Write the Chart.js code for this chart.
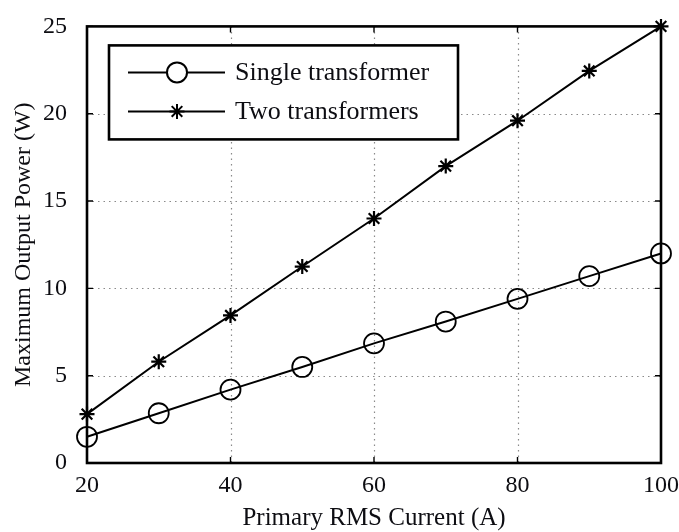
<!DOCTYPE html>
<html>
<head>
<meta charset="utf-8">
<script src="https://cdn.jsdelivr.net/npm/chart.js@4/dist/chart.umd.min.js"></script>
<style>
  html, body { margin: 0; padding: 0; background: #fff; }
  #wrap { width: 679px; height: 532px; }
</style>
</head>
<body>
<div id="wrap"><canvas id="chartPower" width="679" height="532"></canvas></div>
<script>
  // Primary RMS current (A)
  const currents = [20, 30, 40, 50, 60, 70, 80, 90, 100];
  // Maximum output power (W)
  const singleTransformer = [1.5, 2.85, 4.2, 5.5, 6.85, 8.1, 9.4, 10.7, 12.0];
  const twoTransformers = [2.8, 5.8, 8.45, 11.25, 14.0, 17.0, 19.6, 22.45, 25.0];
  const xTicks = [20, 40, 60, 80, 100];
  const yTicks = [0, 5, 10, 15, 20, 25];
  const seriesNames = ["Single transformer", "Two transformers"];

  const serif = "'Liberation Serif', 'Times New Roman', serif";
  const ink = "#0d0d12";

  // dotted grid, box and inward ticks, matlab-style
  const frame = {
    id: "frame",
    beforeDatasetsDraw(chart) {
      const { ctx, chartArea: a, scales } = chart;
      const x = scales.x, y = scales.y;
      ctx.save();
      ctx.strokeStyle = "#8a8a8a";
      ctx.lineWidth = 1.2;
      ctx.setLineDash([1.5, 4]);
      xTicks.slice(1, -1).forEach(v => {
        const px = Math.round(x.getPixelForValue(v)) + 0.5;
        ctx.beginPath(); ctx.moveTo(px, a.top); ctx.lineTo(px, a.bottom); ctx.stroke();
      });
      yTicks.slice(1, -1).forEach(v => {
        const py = Math.round(y.getPixelForValue(v)) + 0.5;
        ctx.beginPath(); ctx.moveTo(a.left, py); ctx.lineTo(a.right, py); ctx.stroke();
      });
      ctx.setLineDash([]);
      ctx.strokeStyle = "#000";
      ctx.lineWidth = 1.4;
      const t = 6;
      xTicks.forEach(v => {
        const px = x.getPixelForValue(v);
        ctx.beginPath();
        ctx.moveTo(px, a.bottom); ctx.lineTo(px, a.bottom - t);
        ctx.moveTo(px, a.top); ctx.lineTo(px, a.top + t);
        ctx.stroke();
      });
      yTicks.forEach(v => {
        const py = y.getPixelForValue(v);
        ctx.beginPath();
        ctx.moveTo(a.left, py); ctx.lineTo(a.left + t, py);
        ctx.moveTo(a.right, py); ctx.lineTo(a.right - t, py);
        ctx.stroke();
      });
      ctx.lineWidth = 2.6;
      ctx.strokeRect(a.left, a.top, a.right - a.left, a.bottom - a.top);
      ctx.restore();
    },
    afterDraw(chart) {
      // legend box in the upper-left corner of the plot
      const { ctx, chartArea: a } = chart;
      const bx = a.left + 22, by = a.top + 19, bw = 349, bh = 94;
      ctx.save();
      ctx.fillStyle = "#fff";
      ctx.fillRect(bx, by, bw, bh);
      ctx.strokeStyle = "#000";
      ctx.lineWidth = 2.6;
      ctx.strokeRect(bx, by, bw, bh);
      chart.data.datasets.forEach((ds, i) => {
        const ly = by + 27 + i * 39;
        ctx.strokeStyle = "#000";
        ctx.lineWidth = 2;
        ctx.beginPath(); ctx.moveTo(bx + 19, ly); ctx.lineTo(bx + 116, ly); ctx.stroke();
        Chart.helpers.drawPoint(ctx, {
          pointStyle: ds.pointStyle,
          radius: ds.pointRadius,
          borderWidth: ds.pointBorderWidth,
          rotation: 0
        }, bx + 68, ly);
        ctx.fillStyle = ink;
        ctx.font = "26px " + serif;
        ctx.textBaseline = "middle";
        ctx.textAlign = "left";
        ctx.fillText(ds.label, bx + 126, ly + 1);
      });
      ctx.restore();
    }
  };

  const canvas = document.getElementById("chartPower");
  new Chart(canvas, {
    type: "line",
    data: {
      labels: currents,
      datasets: [
        {
          label: seriesNames[0],
          data: currents.map((c, i) => ({ x: c, y: singleTransformer[i] })),
          borderColor: "#000",
          borderWidth: 2,
          pointStyle: "circle",
          pointRadius: 10,
          pointBorderWidth: 1.8,
          pointBorderColor: "#000",
          pointBackgroundColor: "rgba(0,0,0,0)",
          tension: 0
        },
        {
          label: seriesNames[1],
          data: currents.map((c, i) => ({ x: c, y: twoTransformers[i] })),
          borderColor: "#000",
          borderWidth: 2,
          pointStyle: "star",
          pointRadius: 7.5,
          pointBorderWidth: 2.2,
          pointBorderColor: "#000",
          pointBackgroundColor: "#000",
          tension: 0
        }
      ]
    },
    options: {
      responsive: false,
      animation: false,
      clip: false,
      layout: { padding: { left: 0, right: 18, top: 23, bottom: 0 } },
      plugins: { legend: { display: false }, tooltip: { enabled: false } },
      scales: {
        x: {
          type: "linear",
          min: 20,
          max: 100,
          afterBuildTicks: s => { s.ticks = xTicks.map(v => ({ value: v })); },
          afterFit: s => { s.height = 69; },
          grid: { display: false },
          border: { display: false },
          ticks: { color: ink, font: { family: serif, size: 24 }, padding: 0, maxRotation: 0 },
          title: {
            display: true,
            text: "Primary RMS Current (A)",
            color: ink,
            font: { family: serif, size: 25 },
            padding: { top: 0, bottom: -1 }
          }
        },
        y: {
          min: 0,
          max: 25,
          afterBuildTicks: s => { s.ticks = yTicks.map(v => ({ value: v })); },
          afterFit: s => { s.width = 87; },
          grid: { display: false },
          border: { display: false },
          ticks: { color: ink, font: { family: serif, size: 24 }, padding: 12 },
          title: {
            display: true,
            text: "Maximum Output Power (W)",
            color: ink,
            font: { family: serif, size: 24 },
            padding: { top: 9, bottom: 0 }
          }
        }
      }
    },
    plugins: [frame]
  });
</script>
</body>
</html>
